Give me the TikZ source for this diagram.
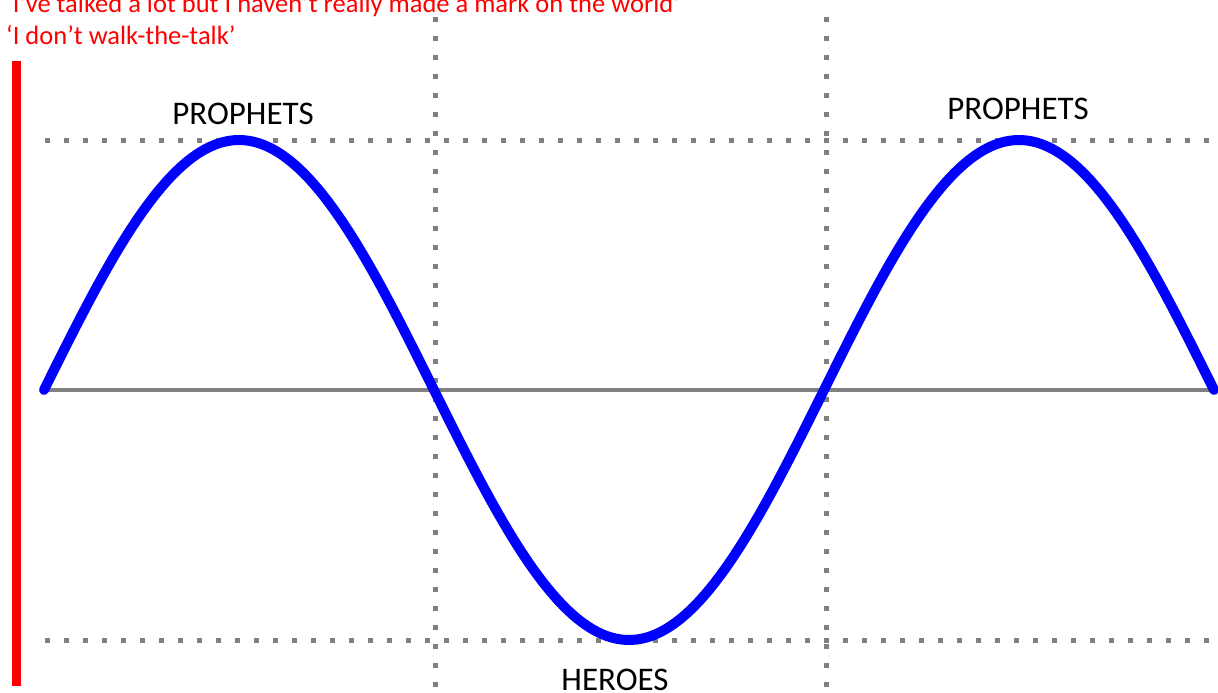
\documentclass[tikz,border=0pt]{standalone}
\usepackage{fontspec}
\setmainfont{Carlito}
\usepackage{tikz}
\usetikzlibrary{positioning}
\definecolor{WaveBlue}{RGB}{0,0,255}
\definecolor{GridGrey}{RGB}{128,128,128}
\definecolor{NoteRed}{RGB}{255,0,0}

\begin{document}
\begin{tikzpicture}[x=1pt,y=-1pt,
  gridline/.style={draw=GridGrey,line width=5pt,dash pattern=on 5pt off 14pt},
  axisline/.style={draw=GridGrey,line width=4pt},
  wave/.style={draw=WaveBlue,line width=10pt,line cap=round,line join=round},
  label/.style={font=\fontsize{33}{39}\selectfont,text=black,inner sep=0pt,anchor=base},
  note/.style={font=\fontsize{26.5}{32}\selectfont,text=NoteRed,inner sep=0pt,anchor=base west},
]
\useasboundingbox (0,0) rectangle (1218,693);
\fill[white] (0,0) rectangle (1218,693);
% dotted guides
\coordinate (topL) at (45,140);   \coordinate (topR) at (1218,140);
\coordinate (botL) at (45,640);   \coordinate (botR) at (1218,640);
\coordinate (v1T) at (435,17);    \coordinate (v1B) at (435,693);
\coordinate (v2T) at (826,17);    \coordinate (v2B) at (826,693);
\draw[gridline] (topL) -- (topR);
\draw[gridline] (botL) -- (botR);
\draw[gridline] (v1T) -- (v1B);
\draw[gridline] (v2T) -- (v2B);
% axis
\coordinate (axL) at (44,390); \coordinate (axR) at (1218,390);
\draw[axisline] (axL) -- (axR);
% red bar
\fill[NoteRed] (12,61) rectangle (21,686);
% the wave
\draw[wave] plot[domain=44:1214,samples=240] (\x,{390-250*sin(0.4615385*(\x-44))});
% labels
\node[label] (prophL) at (243,124) {PROPHETS};
\node[label] (prophR) at (1018,119) {PROPHETS};
\node[label] (heroes) at (615,690) {HEROES};
\node[note] (note1) at (6,13) {‘I’ve talked a lot but I haven’t really made a mark on the world’};
\node[note] (note2) at (6,45) {‘I don’t walk-the-talk’};
\end{tikzpicture}
\end{document}
